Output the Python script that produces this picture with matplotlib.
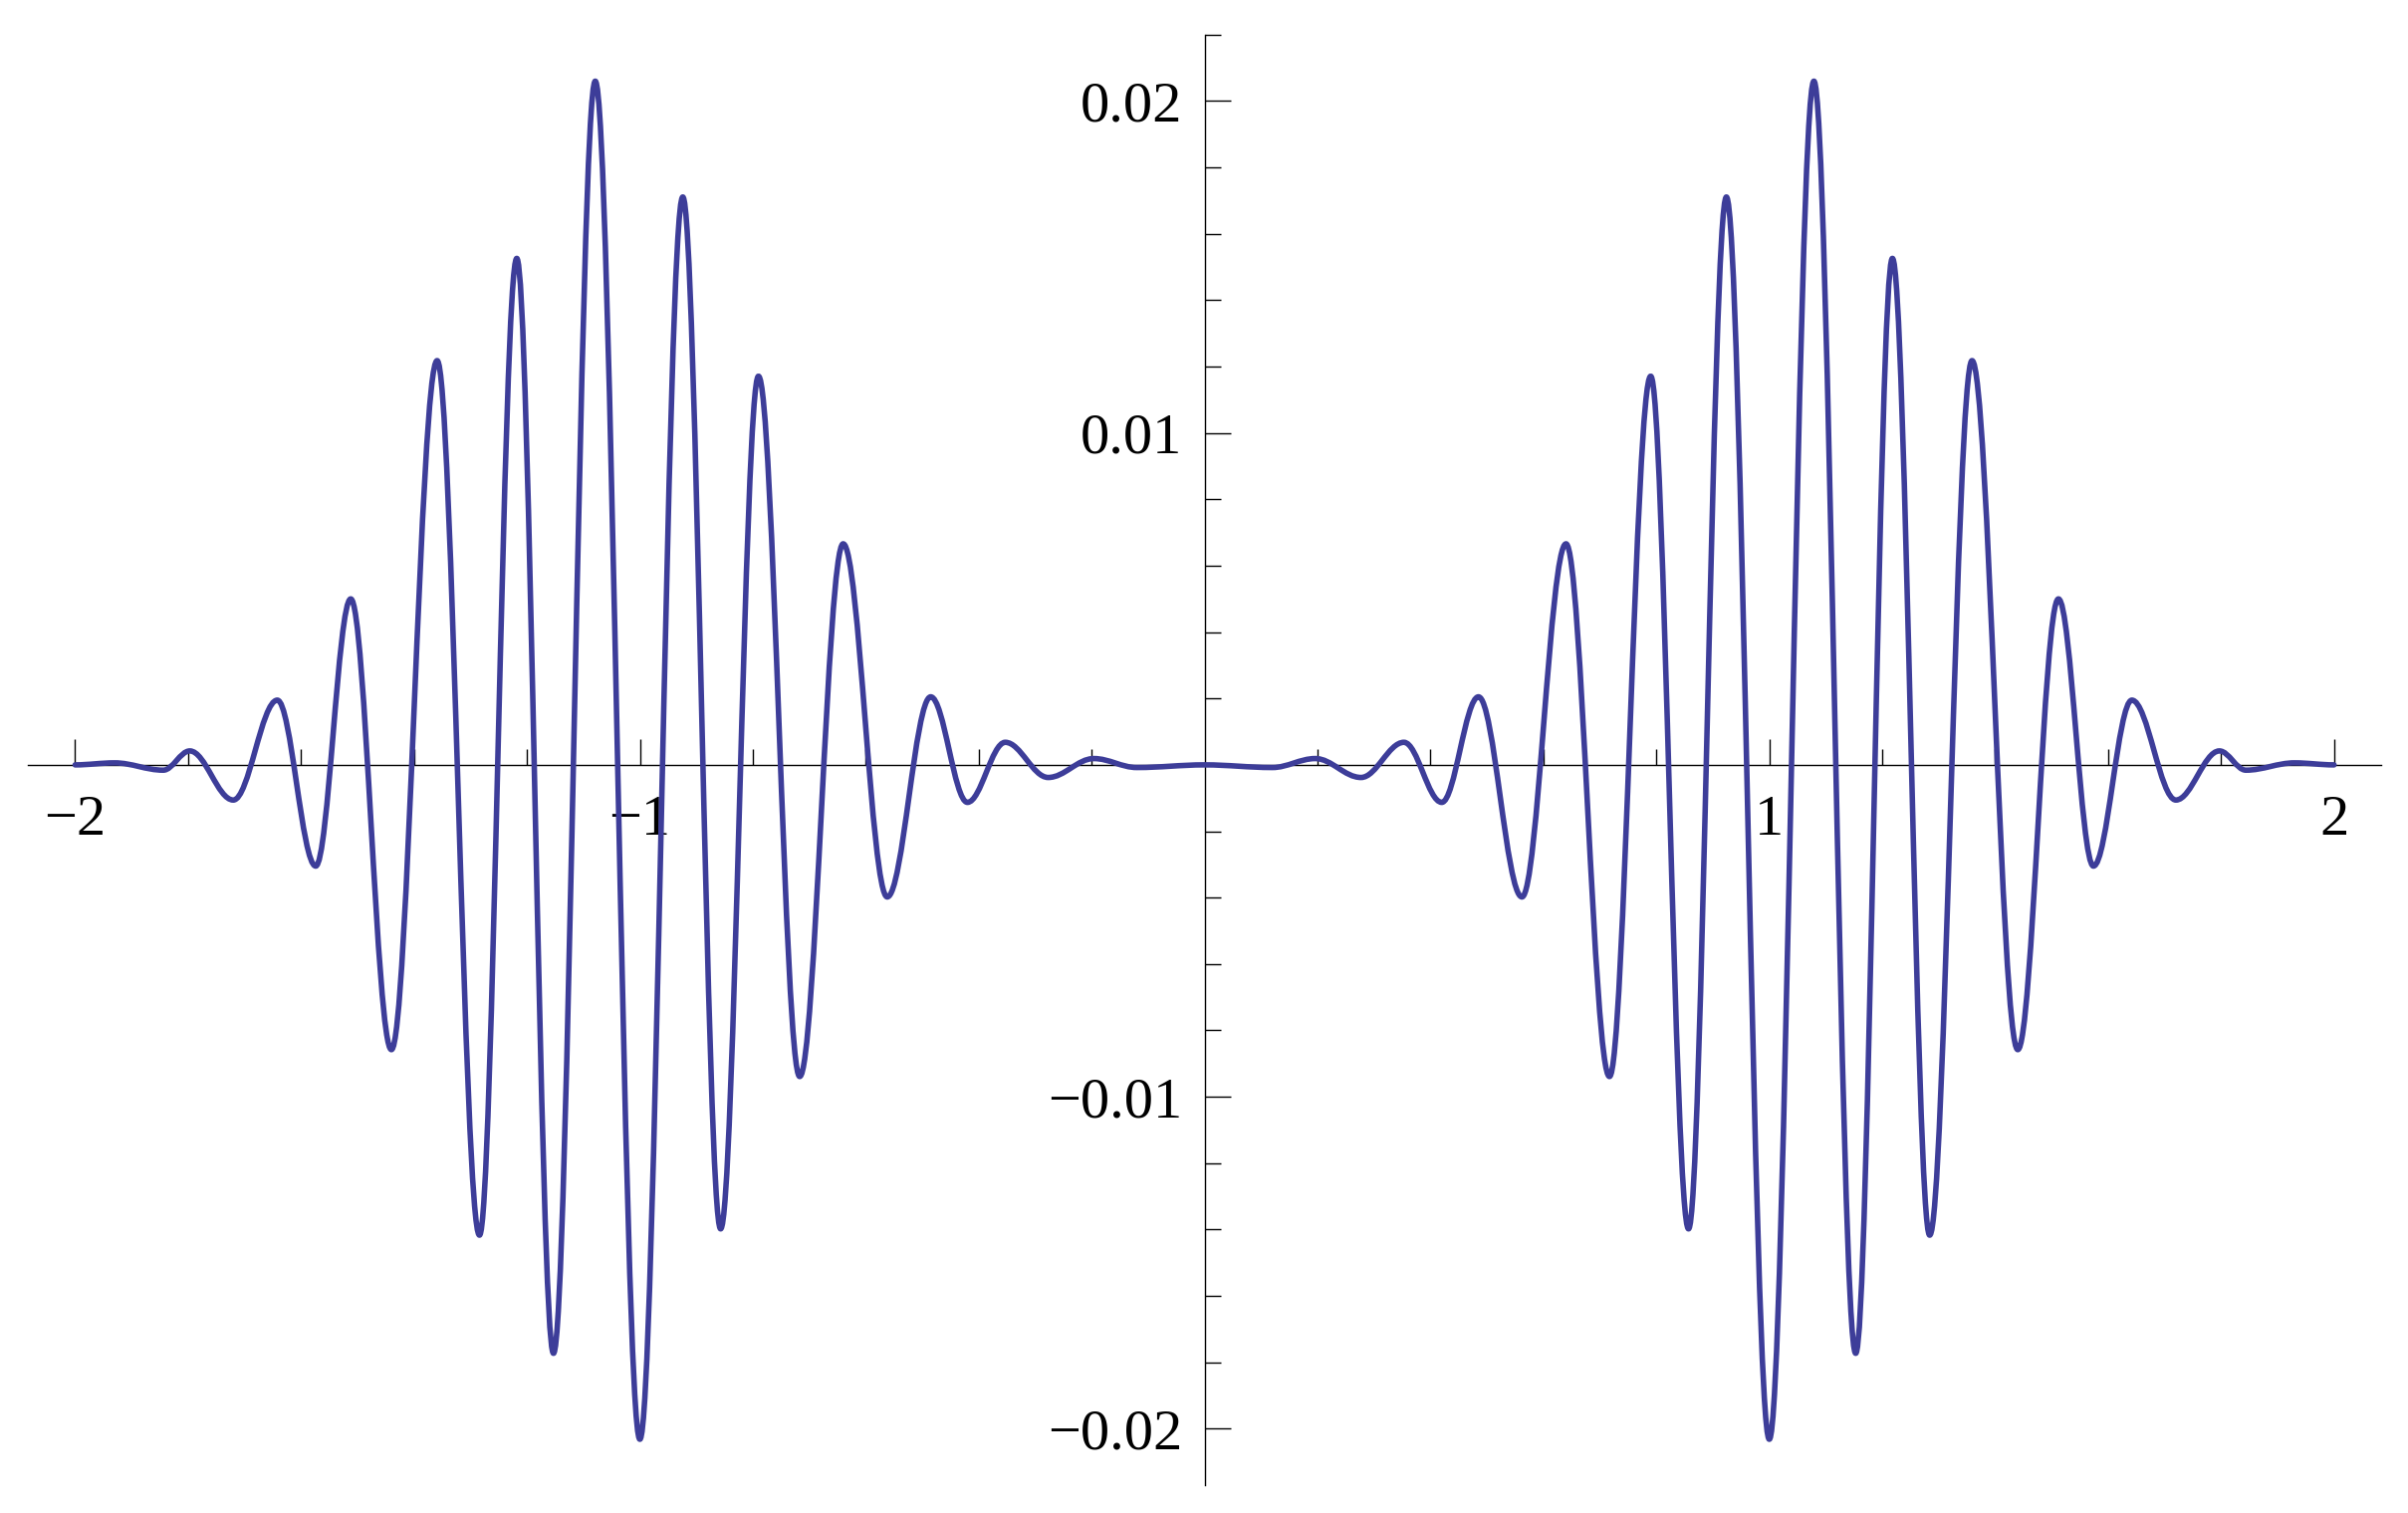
import matplotlib
matplotlib.use("Agg")
import matplotlib.pyplot as plt
from matplotlib import font_manager as fm
from matplotlib.path import Path
from matplotlib.patches import PathPatch

# ---- data (local extrema of the curve, x and value) ----
ext_x = [-2.0, -1.93, -1.844, -1.797, -1.72, -1.642, -1.574, -1.512, -1.44, -1.359,
         -1.284, -1.218, -1.153, -1.079, -1.0, -0.924, -0.857, -0.79, -0.717, -0.64,
         -0.562, -0.485, -0.42, -0.353, -0.277, -0.196, -0.12, 0.0,
         0.12, 0.196, 0.277, 0.353, 0.42, 0.485, 0.562, 0.64, 0.717, 0.79,
         0.857, 0.924, 1.0, 1.079, 1.153, 1.218, 1.284, 1.359, 1.44, 1.512,
         1.574, 1.642, 1.72, 1.797, 1.844, 1.93, 2.0]
ext_y = [0.0, 0.00006, -0.00016, 0.00042, -0.00106, 0.00195, -0.00305, 0.00500, -0.00858, 0.01218,
         -0.01417, 0.01526, -0.01773, 0.02060, -0.02032, 0.01711, -0.01398, 0.01171, -0.00939, 0.00666,
         -0.00398, 0.00205, -0.00113, 0.00068, -0.00038, 0.00019, -0.00008, 0.0,
         -0.00008, 0.00019, -0.00038, 0.00068, -0.00113, 0.00205, -0.00398, 0.00666, -0.00939, 0.01171,
         -0.01398, 0.01711, -0.02032, 0.02060, -0.01773, 0.01526, -0.01417, 0.01218, -0.00858, 0.00500,
         -0.00305, 0.00195, -0.00106, 0.00042, -0.00016, 0.00006, 0.0]

x_major_ticks = [-2, -1, 1, 2]
x_major_labels = ["\u22122", "\u22121", "1", "2"]
x_minor_ticks = [-1.8, -1.6, -1.4, -1.2, -0.8, -0.6, -0.4, -0.2, 0.2, 0.4, 0.6, 0.8,
                 1.2, 1.4, 1.6, 1.8]
y_major_ticks = [-0.02, -0.01, 0.01, 0.02]
y_major_labels = ["\u22120.02", "\u22120.01", "0.01", "0.02"]
y_minor_ticks = [-0.018, -0.016, -0.014, -0.012, -0.008, -0.006, -0.004, -0.002,
                 0.002, 0.004, 0.006, 0.008, 0.012, 0.014, 0.016, 0.018, 0.022]

LINE_COLOR = "#3d3d99"

# make sure a Times-like serif is really used
serif_path = fm.findfont(fm.FontProperties(family="Liberation Serif"), fallback_to_default=False)
serif_prop = fm.FontProperties(fname=serif_path, size=21)

fig = plt.figure(figsize=(12.09, 7.595), dpi=200)
ax = fig.add_axes([0, 0, 1, 1])
ax.set_xlim(-2.1331, 2.1310)
ax.set_ylim(-0.022542, 0.023046)

# smooth curve through the extrema (horizontal tangents at each extremum)
k = 0.36
verts = [(ext_x[0], ext_y[0])]
codes = [Path.MOVETO]
for i in range(1, len(ext_x)):
    x0, y0 = ext_x[i - 1], ext_y[i - 1]
    x1, y1 = ext_x[i], ext_y[i]
    dx = x1 - x0
    verts += [(x0 + k * dx, y0), (x1 - k * dx, y1), (x1, y1)]
    codes += [Path.CURVE4] * 3
patch = PathPatch(Path(verts, codes), facecolor="none", edgecolor=LINE_COLOR,
                  linewidth=2.0, capstyle="round", joinstyle="round", zorder=3)
ax.add_patch(patch)

# axes through the origin, Mathematica style
for s in ("top", "right"):
    ax.spines[s].set_visible(False)
ax.spines["left"].set_position(("data", 0))
ax.spines["bottom"].set_position(("data", 0))
ax.spines["left"].set_bounds(-0.0217, 0.022)
ax.spines["bottom"].set_bounds(-2.083, 2.083)
for s in ("left", "bottom"):
    ax.spines[s].set_linewidth(0.5)
    ax.spines[s].set_color("black")
    ax.spines[s].set_zorder(2)

ax.set_xticks(x_major_ticks, labels=x_major_labels)
ax.set_xticks(x_minor_ticks, minor=True)
ax.set_yticks(y_major_ticks, labels=y_major_labels)
ax.set_yticks(y_minor_ticks, minor=True)

ax.tick_params(axis="x", which="major", direction="in", length=9.4, width=0.5, pad=11)
ax.tick_params(axis="x", which="minor", direction="in", length=5.8, width=0.5)
ax.tick_params(axis="y", which="major", direction="in", length=9.4, width=0.5, pad=8)
ax.tick_params(axis="y", which="minor", direction="in", length=5.8, width=0.5)
for lab in ax.get_xticklabels() + ax.get_yticklabels():
    lab.set_fontproperties(serif_prop)
ax.patch.set_visible(False)

fig.savefig("out.png", dpi=200, facecolor="white")
